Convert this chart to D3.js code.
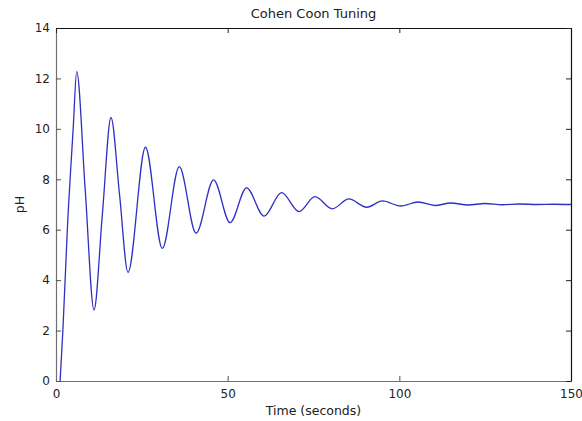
<!DOCTYPE html>
<html>
<head>
<meta charset="utf-8">
<script src="https://cdn.jsdelivr.net/npm/d3@7"></script>
<style>
  body { margin: 0; background: #fff; }
  svg { display: block; }
  text { font-family: "DejaVu Sans", sans-serif; fill: #222; }
</style>
</head>
<body>
<svg id="chart" width="582" height="421"></svg>
<script>
// Data (time in seconds, pH)
const times = [1.2, 2.0, 3.3, 5.0, 6.03, 8.5, 11.07, 13.5, 16.02, 18.5, 20.97, 26.06, 30.97, 35.9, 40.8, 45.9, 50.7, 55.5, 60.6, 65.7, 70.8, 75.4, 80.5, 85.3, 90.5, 95.1, 100.4, 105.5, 110.4, 115.0, 120.0, 125.0, 130.0, 135.0, 140.0, 145.0, 150.0];
const phValues = [0, 2.0, 6.0, 10.0, 12.27, 7.6, 2.82, 6.6, 10.45, 7.4, 4.31, 9.27, 5.26, 8.50, 5.86, 7.98, 6.28, 7.66, 6.54, 7.47, 6.72, 7.31, 6.83, 7.22, 6.89, 7.14, 6.94, 7.10, 6.96, 7.06, 6.98, 7.04, 6.99, 7.02, 7.0, 7.01, 7.0];
const xTicks = [0, 50, 100, 150];
const yTicks = [0, 2, 4, 6, 8, 10, 12, 14];
const title = "Cohen Coon Tuning";
const xLabel = "Time (seconds)";
const yLabel = "pH";

const svg = d3.select("#chart");
const mLeft = 56, mRight = 571, mTop = 28, mBottom = 381;

const x = d3.scaleLinear().domain([0, 150]).range([mLeft, mRight]);
const y = d3.scaleLinear().domain([0, 14]).range([mBottom, mTop]);

const pts = times.map((t, i) => [t, phValues[i]]);

// data line
const line = d3.line().x(d => x(d[0])).y(d => y(d[1])).curve(d3.curveMonotoneX);
svg.append("path")
  .datum(pts)
  .attr("d", line)
  .attr("fill", "none")
  .attr("stroke", "#2f2fc4")
  .attr("stroke-width", 1.3);

// axes (MATLAB style: inward ticks, box)
const tickLen = 5;
const axB = svg.append("g").attr("transform", `translate(0,${mBottom})`)
  .call(d3.axisBottom(x).tickValues(xTicks).tickSize(-tickLen).tickSizeOuter(0).tickPadding(8).tickFormat(d3.format("d")));
const axL = svg.append("g").attr("transform", `translate(${mLeft},0)`)
  .call(d3.axisLeft(y).tickValues(yTicks).tickSize(-tickLen).tickSizeOuter(0).tickPadding(6).tickFormat(d3.format("d")));
const axT = svg.append("g").attr("transform", `translate(0,${mTop})`)
  .call(d3.axisTop(x).tickValues(xTicks).tickSize(-tickLen).tickSizeOuter(0).tickFormat(""));
const axR = svg.append("g").attr("transform", `translate(${mRight},0)`)
  .call(d3.axisRight(y).tickValues(yTicks).tickSize(-tickLen).tickSizeOuter(0).tickFormat(""));

[axB, axL].forEach(g => {
  g.select(".domain").attr("stroke", "#707070").attr("stroke-width", 1.2);
  g.selectAll(".tick line").attr("stroke", "#505050");
  g.selectAll(".tick text").attr("font-size", 12).attr("fill", "#222")
    .attr("font-family", "DejaVu Sans, sans-serif");
});
[axT, axR].forEach(g => {
  g.select(".domain").attr("stroke", "#111").attr("stroke-width", 1.2);
  g.selectAll(".tick line").attr("stroke", "#222");
});

// title and labels
svg.append("text").attr("x", (mLeft + mRight) / 2).attr("y", 18)
  .attr("text-anchor", "middle").attr("font-size", 13).text(title);
svg.append("text").attr("x", (mLeft + mRight) / 2).attr("y", 415)
  .attr("text-anchor", "middle").attr("font-size", 12.5).text(xLabel);
svg.append("text").attr("transform", `translate(24,${(mTop + mBottom) / 2}) rotate(-90)`)
  .attr("text-anchor", "middle").attr("font-size", 12.5).text(yLabel);
</script>
</body>
</html>
